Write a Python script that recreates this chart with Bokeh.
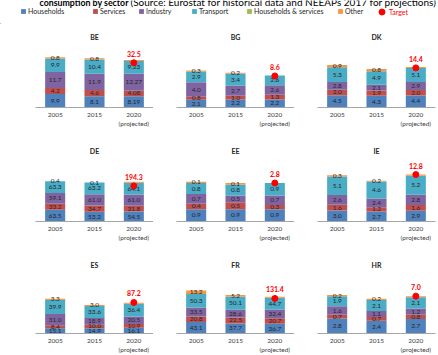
from bokeh.plotting import figure
from bokeh.layouts import column, row
from bokeh.models import (ColumnDataSource, FactorRange, Range1d, Legend, LegendItem, Label,
                          CategoricalAxis, CustomJSTickFormatter)
from bokeh.embed import file_html
from bokeh.resources import INLINE
from bokeh.core.properties import value

# ---------------- data ----------------
years = ["2005", "2015", "2020"]
year_sub_labels = ["", "", "(projected)"]
countries = ["BE", "BG", "DK", "DE", "EE", "IE", "ES", "FR", "HR"]

households = {"BE": [9.9, 8.1, 8.19], "BG": [2.1, 2.2, 2.2], "DK": [4.5, 4.3, 4.4],
              "DE": [63.5, 53.2, 54.5], "EE": [0.9, 0.9, 0.9], "IE": [3.0, 2.7, 2.9],
              "ES": [15.1, 14.9, 16.1], "FR": [43.1, 37.7, 36.7], "HR": [2.8, 2.4, 2.7]}
services = {"BE": [4.2, 4.6, 4.08], "BG": [0.8, 1.0, 1.3], "DK": [2.0, 1.9, 2.0],
            "DE": [33.2, 34.7, 31.8], "EE": [0.4, 0.5, 0.3], "IE": [1.6, 1.2, 1.6],
            "ES": [8.4, 10.0, 10.9], "FR": [20.8, 22.5, 20.7], "HR": [0.7, 0.7, 0.8]}
industry = {"BE": [11.7, 11.9, 12.27], "BG": [4.0, 2.7, 2.6], "DK": [2.8, 2.1, 2.9],
            "DE": [59.1, 61.0, 61.0], "EE": [0.7, 0.5, 0.7], "IE": [2.6, 2.4, 2.8],
            "ES": [31.0, 18.9, 20.5], "FR": [33.5, 28.6, 32.4], "HR": [1.6, 1.1, 1.2]}
transport = {"BE": [9.9, 10.4, 9.23], "BG": [2.9, 3.4, 2.6], "DK": [5.3, 4.9, 5.1],
             "DE": [63.3, 63.2, 64.1], "EE": [0.8, 0.8, 0.9], "IE": [5.1, 4.6, 5.2],
             "ES": [39.9, 33.6, 36.4], "FR": [50.3, 50.1, 44.7], "HR": [1.9, 2.1, 2.1]}
households_services = {"BE": [0, 0, 0], "BG": [0, 0, 0], "DK": [0, 0, 0],
                       "DE": [0, 0, 0], "EE": [0, 0, 0], "IE": [0, 0, 0],
                       "ES": [0, 0, 0], "FR": [0, 0, 0], "HR": [0, 0, 0]}
other = {"BE": [0.8, 0.8, 0.7], "BG": [0.3, 0.2, 0.0], "DK": [0.9, 0.8, 0.3],
         "DE": [0.4, 0.1, 5.0], "EE": [0.1, 0.1, 0.0], "IE": [0.3, 0.2, 0.3],
         "ES": [3.3, 3.0, 2.5], "FR": [13.2, 5.2, 3.5], "HR": [0.2, 0.2, 0.2]}
other_labelled = [True, True, False]
target_2020 = {"BE": 32.5, "BG": 8.6, "DK": 14.4, "DE": 194.3, "EE": 2.8,
               "IE": 12.8, "ES": 87.2, "FR": 131.4, "HR": 7.0}
axis_max = {"BE": 40, "BG": 15, "DK": 20, "DE": 300, "EE": 4, "IE": 15,
            "ES": 150, "FR": 200, "HR": 10}

series_names = ["Households", "Services", "Industry", "Transport", "Households & services", "Other"]
series_keys = ["households", "services", "industry", "transport", "hh_services", "other"]
series_data = [households, services, industry, transport, households_services, other]
colors = ["#4F81BD", "#C0504D", "#8064A2", "#4BACC6", "#9BBB59", "#F79646"]
target_color = "#FF0000"

# ---------------- layout ----------------
FONT = "Lato"
TXT = "#262626"
col_w = [153, 141, 144]
col_left = [35, 23, 23]
col_right = [0, 0, 3]
row_h = [114, 115, 102]
row_top = [17, 17, 16]
row_bottom = [31, 32, 20]
VALUE_AXIS_PX = 55.0


def style_axis(ax, standoff):
    ax.axis_line_color = "#A6A6A6"
    ax.major_tick_line_color = None
    ax.minor_tick_line_color = None
    ax.major_tick_out = 0
    ax.major_label_text_font = FONT
    ax.major_label_text_font_size = "6.5px"
    ax.major_label_text_color = "#404040"
    ax.major_label_standoff = standoff


def make_panel(c, r, k):
    frame_h = row_h[r] - row_top[r] - row_bottom[r]
    p = figure(x_range=FactorRange(*years, range_padding=0),
               y_range=Range1d(0, axis_max[c] * frame_h / VALUE_AXIS_PX),
               width=col_w[k], height=row_h[r], title=c,
               min_border_left=col_left[k], min_border_right=col_right[k],
               min_border_top=row_top[r], min_border_bottom=row_bottom[r],
               toolbar_location=None, output_backend="svg")
    p.title.align = "center"
    p.title.text_font = FONT
    p.title.text_font_size = "7px"
    p.title.text_font_style = "bold"
    p.title.text_color = TXT
    p.title.standoff = 2
    p.outline_line_color = None
    p.background_fill_color = None
    p.border_fill_color = None
    p.grid.visible = False
    p.yaxis.visible = False
    style_axis(p.xaxis[0], 5)
    sub = CategoricalAxis(formatter=CustomJSTickFormatter(
        args=dict(f=years, s=year_sub_labels),
        code="const i = f.indexOf(tick); return i >= 0 ? s[i] : '';"))
    style_axis(sub, 0)
    sub.axis_line_color = None
    p.add_layout(sub, "below")

    data = {"year": years}
    for key, d in zip(series_keys, series_data):
        data[key] = d[c]
    src = ColumnDataSource(data)
    p.vbar_stack(series_keys, x="year", width=0.51, source=src,
                 fill_color=colors, line_color=None)

    lx, ly, lt = [], [], []
    for i, y in enumerate(years):
        base = 0.0
        for key, d in zip(series_keys, series_data):
            v = d[c][i]
            if v > 0 and (key != "other" or other_labelled[i]):
                lx.append(y)
                ly.append(base + v / 2.0)
                lt.append(str(v))
            base += v
    p.text(x=lx, y=ly, text=lt, text_font=value(FONT), text_font_size=value("6.5px"),
           text_align="center", text_baseline="middle", text_color=TXT)

    p.scatter(x=[years[2]], y=[target_2020[c]], size=6, marker="circle",
              fill_color=target_color, line_color=target_color)
    p.text(x=[years[2]], y=[target_2020[c]], text=[str(target_2020[c])], y_offset=-6,
           text_font=value(FONT), text_font_size=value("7px"), text_font_style="bold",
           text_align="center", text_baseline="bottom", text_color=target_color)
    return p


# legend / header strip
head = figure(width=438, height=24, x_range=Range1d(0, 438), y_range=Range1d(0, 24),
              min_border=0, toolbar_location=None, output_backend="svg")
head.axis.visible = False
head.grid.visible = False
head.outline_line_color = None
head.add_layout(Label(x=39, y=22.4, text="consumption by sector", text_font=FONT,
                      text_font_size="8.8px", text_font_style="bold", text_color="#000000",
                      text_baseline="alphabetic"))
head.add_layout(Label(x=130, y=22.4,
                      text="(Source: Eurostat for historical data and NEEAPs 2017 for projections)",
                      text_font=FONT, text_font_size="10px", text_color="#000000",
                      text_baseline="alphabetic"))

legend_x = [20, 92, 138, 191, 246, 337]
for name, col, lxp in zip(series_names, colors, legend_x):
    rr = head.vbar(x=[-100], top=[1], width=1, fill_color=col, line_color=None)
    lg = Legend(items=[LegendItem(label=name, renderers=[rr])], location=(lxp, 9),
                orientation="horizontal", padding=0, margin=0, spacing=0,
                border_line_color=None, background_fill_alpha=0,
                glyph_width=6, glyph_height=6, label_height=6, label_standoff=2,
                label_text_font=FONT, label_text_font_size="7px", label_text_color=TXT)
    head.add_layout(lg)
rt = head.scatter(x=[-100], y=[-100], marker="circle", fill_color=target_color,
                  line_color=target_color)
lg = Legend(items=[LegendItem(label="Target", renderers=[rt])], location=(374, 5),
            orientation="horizontal", padding=0, margin=0, spacing=0,
            border_line_color=None, background_fill_alpha=0,
            glyph_width=15, glyph_height=15, label_height=15, label_standoff=-4,
            label_text_font=FONT, label_text_font_size="7px", label_text_color=target_color)
head.add_layout(lg)

rows = [head]
for r in range(3):
    figs = [make_panel(countries[r * 3 + k], r, k) for k in range(3)]
    rows.append(row(*figs, spacing=0))
layout = column(*rows, spacing=0)

open("out.html", "w").write(file_html(layout, INLINE))
